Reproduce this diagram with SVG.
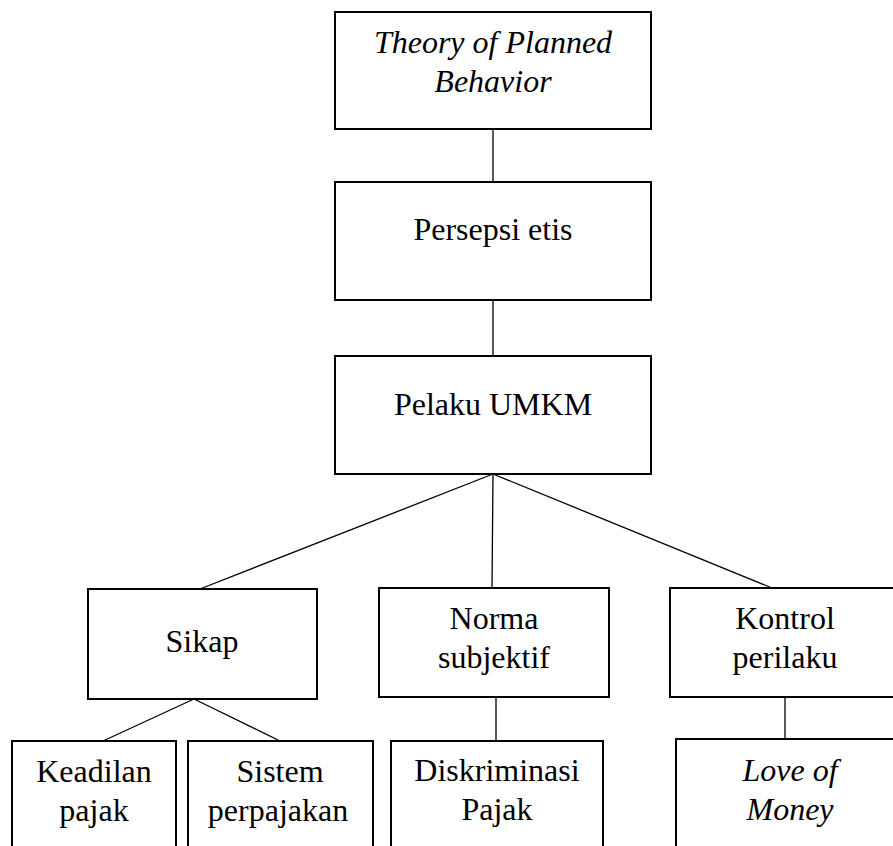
<svg xmlns="http://www.w3.org/2000/svg" width="893" height="846" viewBox="0 0 893 846">
<style>
.box{fill:#fff;stroke:#000;stroke-width:2}
.ln{stroke:#000;stroke-width:1.3;fill:none}
</style>
<rect width="893" height="846" fill="#fff"/>
<g id="connectors">
<line class="ln" x1="493" y1="129" x2="493" y2="182"/>
<line class="ln" x1="493" y1="300" x2="493" y2="356"/>
<line class="ln" x1="493" y1="474" x2="200" y2="589"/>
<line class="ln" x1="493" y1="474" x2="492" y2="588"/>
<line class="ln" x1="493" y1="474" x2="772" y2="588"/>
<line class="ln" x1="194" y1="699" x2="103" y2="741"/>
<line class="ln" x1="194" y1="699" x2="280" y2="741"/>
<line class="ln" x1="496" y1="697" x2="496" y2="741"/>
<line class="ln" x1="785" y1="697" x2="785" y2="739"/>
</g>
<g font-family="Liberation Serif, serif" font-size="32" text-anchor="middle" fill="#000">
<g id="tpb">
<rect class="box" x="335" y="12" width="316" height="117"/>
<text font-style="italic" x="493" y="53">Theory of Planned</text>
<text font-style="italic" x="493" y="92">Behavior</text>
</g>
<g id="persepsi">
<rect class="box" x="335" y="182" width="316" height="118"/>
<text x="493" y="240">Persepsi etis</text>
</g>
<g id="pelaku">
<rect class="box" x="335" y="356" width="316" height="118"/>
<text x="493" y="415">Pelaku UMKM</text>
</g>
<g id="sikap">
<rect class="box" x="88" y="589" width="229" height="110"/>
<text x="202" y="652">Sikap</text>
</g>
<g id="norma">
<rect class="box" x="379" y="588" width="230" height="109"/>
<text x="494" y="629">Norma</text>
<text x="494" y="668">subjektif</text>
</g>
<g id="kontrol">
<rect class="box" x="670" y="588" width="232" height="109"/>
<text x="785" y="629">Kontrol</text>
<text x="785" y="668">perilaku</text>
</g>
<g id="keadilan">
<rect class="box" x="12" y="741" width="164" height="120"/>
<text x="94" y="782">Keadilan</text>
<text x="94" y="821">pajak</text>
</g>
<g id="sistem">
<rect class="box" x="188" y="741" width="185" height="120"/>
<text x="280" y="782">Sistem</text>
<text x="278" y="821">perpajakan</text>
</g>
<g id="diskriminasi">
<rect class="box" x="391" y="741" width="212" height="120"/>
<text x="497" y="781">Diskriminasi</text>
<text x="497" y="820">Pajak</text>
</g>
<g id="love">
<rect class="box" x="676" y="739" width="230" height="120"/>
<text font-style="italic" x="790" y="781">Love of</text>
<text font-style="italic" x="790" y="820">Money</text>
</g>
</g>
</svg>
